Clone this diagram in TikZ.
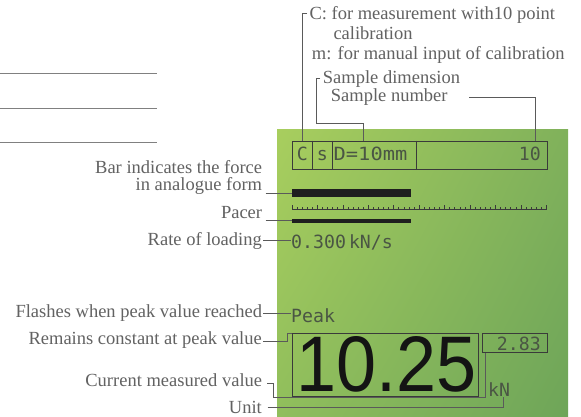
\documentclass[tikz,border=0pt]{standalone}
\usepackage{fontspec}
\setmainfont{Liberation Serif}
\newfontfamily\lcdfont{DejaVu Sans Mono}
\newfontfamily\bigfont{Liberation Sans}
\usepackage{graphicx}
\usetikzlibrary{shadings}
\definecolor{labelgrey}{HTML}{626262}
\definecolor{linegrey}{HTML}{5A5A5A}
\definecolor{lcdink}{HTML}{4A5544}
\definecolor{lcdline}{HTML}{3A3A3A}
\definecolor{gUL}{HTML}{A8CE5E}
\definecolor{gUR}{HTML}{80B15B}
\definecolor{gLL}{HTML}{90BE5C}
\definecolor{gLR}{HTML}{6EA559}
\tikzset{
  lbl/.style={inner sep=0pt, text=labelgrey, font=\fontsize{18.5}{20}\selectfont},
  conn/.style={draw=linegrey, line width=0.9pt},
  lcdtext/.style={inner sep=0pt, text=lcdink, font=\lcdfont\fontsize{18.2}{20}\selectfont},
  lcdbox/.style={draw=lcdline, line width=0.9pt, inner sep=0pt},
  lcdbar/.style={fill=black!88, inner sep=0pt},
}
\begin{document}
\begin{tikzpicture}[x=1pt,y=-1pt]
\useasboundingbox (0,0) rectangle (581,417);
\fill[white] (0,0) rectangle (581,417);
% left decorative lines
\draw[draw=black!50, line width=0.9pt] (0,73.3) -- (156.7,73.3);
\draw[draw=black!50, line width=0.9pt] (0,108.3) -- (156.7,108.3);
\draw[draw=black!50, line width=0.9pt] (0,142.7) -- (156.7,142.7);
% green display
\shade[upper left=gUL, upper right=gUR, lower left=gLL, lower right=gLR] (277,130) rectangle (568,417);

% top status box
\node[lcdbox, anchor=north west, minimum width=255pt, minimum height=28.6pt] (topbox) at (291.7,140.7) {};
\draw[lcdline, line width=0.9pt] ([xshift=20.6pt]topbox.north west) -- ([xshift=20.6pt]topbox.south west);
\draw[lcdline, line width=0.9pt] ([xshift=40.6pt]topbox.north west) -- ([xshift=40.6pt]topbox.south west);
\draw[lcdline, line width=0.9pt] ([xshift=125pt]topbox.north west) -- ([xshift=125pt]topbox.south west);
\node[lcdtext, anchor=base] (lcdC) at (302.3,160.7) {C};
\node[lcdtext, anchor=base] (lcdS) at (322.3,160.7) {s};
\node[lcdtext, anchor=base west] (lcdD) at (333.5,160.7) {\scalebox{1.12}[1]{D=10mm}};
\node[lcdtext, anchor=base east] (lcdNum) at (541,160.7) {10};

% bars and scale
\node[lcdbar, anchor=north west, minimum width=119.3pt, minimum height=7.7pt] (bar1) at (291.7,189) {};
\node[lcdbar, anchor=north west, minimum width=119.3pt, minimum height=4pt] (bar2) at (291.7,218.7) {};
\draw[lcdline, line width=0.8pt] (292,209.5) -- (546.5,209.5);
\foreach \i in {0,...,50}{
  \pgfmathsetmacro{\tx}{292+\i*5.09}
  \pgfmathtruncatemacro{\m}{mod(\i,5)}
  \ifnum\m=0
    \draw[lcdline, line width=0.8pt] (\tx,209.5) -- (\tx,204.5);
  \else
    \draw[lcdline, line width=0.8pt] (\tx,209.5) -- (\tx,206.5);
  \fi
}
\node[lcdtext, anchor=base west] (lcdRate) at (291,248) {0.300\,kN/s};
\node[lcdtext, anchor=base west] (lcdPeak) at (291,322.7) {Peak};

% value boxes
\node[lcdbox, anchor=north west, minimum width=186.6pt, minimum height=62.4pt] (bigbox) at (291.7,333.3) {};
\node[inner sep=0pt, text=black!92] (bigval) at (386.5,364.3) {\resizebox{180pt}{55pt}{\bigfont 10.25}};
\node[lcdbox, anchor=north west, minimum width=64.4pt, minimum height=19pt] (smallbox) at (482.3,333.3) {};
\node[lcdtext, anchor=base east] (lcdSmall) at (541,350) {2.83};
\node[lcdtext, anchor=base west] (lcdKN) at (488,396.7) {kN};

% top labels
\node[lbl, anchor=base west] (lblC) at (309.3,19.3) {C: for measurement with10 point};
\node[lbl, anchor=base west] (lblCcal) at (333.3,40) {calibration};
\node[lbl, anchor=base west] (lblM) at (311.7,60) {m: for manual input of calibration};
\node[lbl, anchor=base west] (lblDim) at (322.7,83.3) {Sample dimension};
\node[lbl, anchor=base west] (lblNum) at (330.7,101.7) {Sample number};

% left labels
\node[lbl, anchor=base east] (lblBarA) at (262.3,173.3) {Bar indicates the force};
\node[lbl, anchor=base east] (lblBarB) at (262.3,190.5) {in analogue form};
\node[lbl, anchor=base east] (lblPacer) at (262.3,218.3) {Pacer};
\node[lbl, anchor=base east] (lblRate) at (262,245) {Rate of loading};
\node[lbl, anchor=base east] (lblFlash) at (262.3,317.7) {Flashes when peak value reached};
\node[lbl, anchor=base east] (lblRemain) at (262,344) {Remains constant at peak value};
\node[lbl, anchor=base east] (lblCur) at (262.3,386.7) {Current measured value};
\node[lbl, anchor=base east] (lblUnit) at (262,413.3) {Unit};

% helper coordinates
\coordinate (cTickY) at (0,13.3);
\coordinate (dimBend) at (316,123.3);
\coordinate (dimPt) at (363.3,140.7);
\coordinate (numPt) at (535.7,140.7);
\coordinate (remY) at (0,341.7);
\coordinate (curY) at (0,383.3);
\coordinate (curLow) at (0,397.5);

% top connectors
\draw[conn] ([xshift=-2.3pt]lblC.west |- cTickY) -| (lcdC.north |- topbox.north);
\draw[conn] ([xshift=-2.5pt]lblDim.west) -| (dimBend) -| (dimPt);
\draw[conn] ([xshift=21.7pt]lblNum.east) -| (numPt);

% left connectors
\draw[conn] ([xshift=3.4pt]lblBarB.east |- bar1.west) -- (bar1.west);
\draw[conn] ([xshift=3.4pt]lblPacer.east |- bar2.west) -- (bar2.west);
\draw[conn] ([xshift=1pt]lblRate.east) -- (lcdRate.west |- lblRate.east);
\draw[conn] ([xshift=1pt]lblFlash.east) -- (lcdPeak.west |- lblFlash.east);
\draw[conn] ([xshift=1.3pt]lblRemain.east |- remY) -| ([xshift=-4.7pt]bigbox.north west) -- (bigbox.north west);
\draw[conn] ([xshift=4.7pt]lblCur.east |- curY) -| ([xshift=10.7pt]lblCur.east |- curLow) -| ([xshift=2.7pt]smallbox.south west);
\draw[conn] ([xshift=5.7pt]lblUnit.east) -| ([xshift=4.5pt]lcdKN.south);
\end{tikzpicture}
\end{document}
